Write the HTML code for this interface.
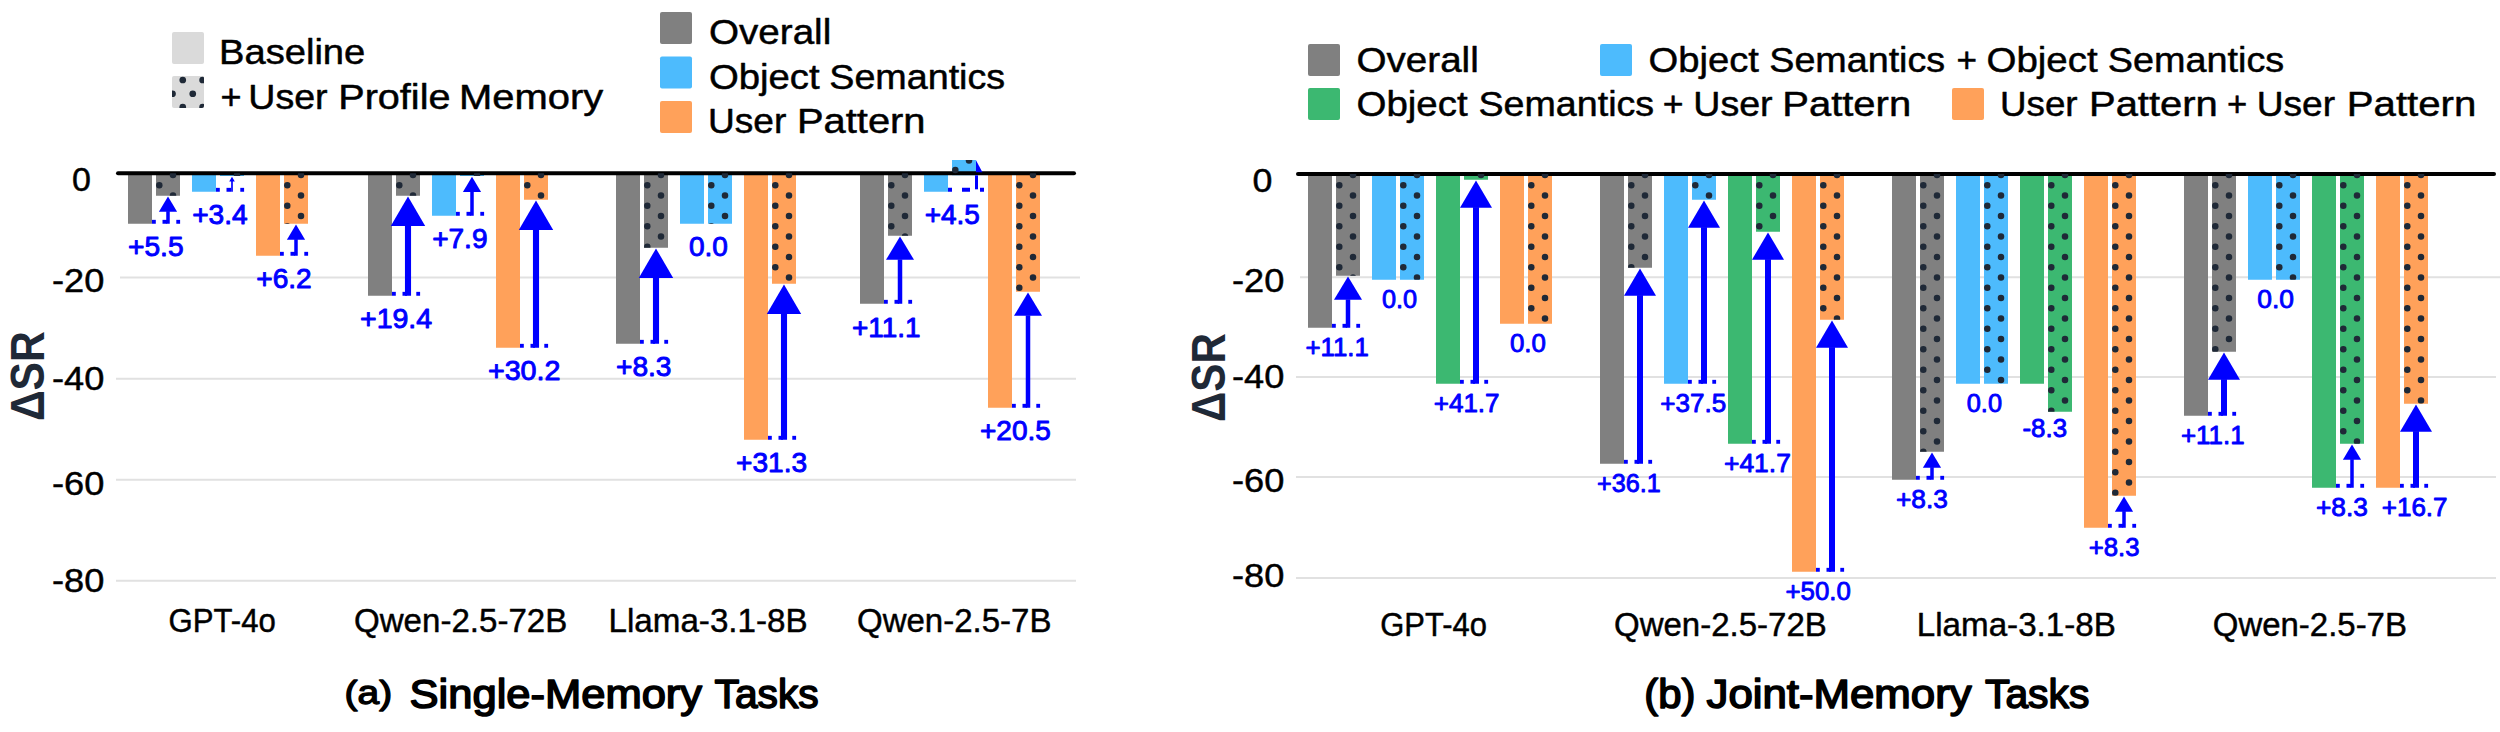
<!DOCTYPE html>
<html lang="en"><head><meta charset="utf-8"><title>Memory ablation chart</title>
<style>html,body{margin:0;padding:0;background:#fff}svg{display:block}</style></head>
<body>
<svg width="2500" height="732" viewBox="0 0 2500 732" font-family='"Liberation Sans", "DejaVu Sans", sans-serif'>
<rect width="2500" height="732" fill="#fff"/>
<g stroke="#e1e1e1" stroke-width="2"><line x1="120" x2="1080" y1="277.6" y2="277.6"/><line x1="116" x2="1076" y1="378.75" y2="378.75"/><line x1="116" x2="1076" y1="479.75" y2="479.75"/><line x1="116" x2="1076" y1="580.8" y2="580.8"/><line x1="1300" x2="2500" y1="277.25" y2="277.25"/><line x1="1296" x2="2496" y1="376.9" y2="376.9"/><line x1="1296" x2="2496" y1="476.9" y2="476.9"/><line x1="1296" x2="2496" y1="578.0" y2="578.0"/></g>
<g><rect x="128" y="173.25" width="24" height="50.5" fill="#808080"/><rect x="156" y="173.25" width="24" height="22.5" fill="#808080"/><rect x="192" y="173.25" width="24" height="18.5" fill="#4dbbfd"/><rect x="220" y="173.25" width="24" height="2.75" fill="#4dbbfd"/><rect x="256" y="173.25" width="24" height="82.5" fill="#ffa15a"/><rect x="284" y="173.25" width="24" height="50.5" fill="#ffa15a"/><rect x="368" y="173.25" width="24" height="122.5" fill="#808080"/><rect x="396" y="173.25" width="24" height="22.5" fill="#808080"/><rect x="432" y="173.25" width="24" height="42.5" fill="#4dbbfd"/><rect x="460" y="173.25" width="24" height="2.75" fill="#4dbbfd"/><rect x="496" y="173.25" width="24" height="174.5" fill="#ffa15a"/><rect x="524" y="173.25" width="24" height="26.5" fill="#ffa15a"/><rect x="616" y="173.25" width="24" height="170.5" fill="#808080"/><rect x="644" y="173.25" width="24" height="74.5" fill="#808080"/><rect x="680" y="173.25" width="24" height="50.5" fill="#4dbbfd"/><rect x="708" y="173.25" width="24" height="50.5" fill="#4dbbfd"/><rect x="744" y="173.25" width="24" height="266.5" fill="#ffa15a"/><rect x="772" y="173.25" width="24" height="110.5" fill="#ffa15a"/><rect x="860" y="173.25" width="24" height="130.5" fill="#808080"/><rect x="888" y="173.25" width="24" height="62.5" fill="#808080"/><rect x="924" y="173.25" width="24" height="18.5" fill="#4dbbfd"/><rect x="952" y="160" width="24" height="15.25" fill="#4dbbfd"/><rect x="988" y="173.25" width="24" height="234.5" fill="#ffa15a"/><rect x="1016" y="173.25" width="24" height="118.5" fill="#ffa15a"/><rect x="1308" y="174" width="24" height="153.75" fill="#808080"/><rect x="1336" y="174" width="24" height="101.75" fill="#808080"/><rect x="1372" y="174" width="24" height="105.75" fill="#4dbbfd"/><rect x="1400" y="174" width="24" height="105.75" fill="#4dbbfd"/><rect x="1436" y="174" width="24" height="209.75" fill="#3cb871"/><rect x="1464" y="174" width="24" height="5.75" fill="#3cb871"/><rect x="1500" y="174" width="24" height="149.75" fill="#ffa15a"/><rect x="1528" y="174" width="24" height="149.75" fill="#ffa15a"/><rect x="1600" y="174" width="24" height="289.75" fill="#808080"/><rect x="1628" y="174" width="24" height="93.75" fill="#808080"/><rect x="1664" y="174" width="24" height="209.75" fill="#4dbbfd"/><rect x="1692" y="174" width="24" height="25.75" fill="#4dbbfd"/><rect x="1728" y="174" width="24" height="269.75" fill="#3cb871"/><rect x="1756" y="174" width="24" height="57.75" fill="#3cb871"/><rect x="1792" y="174" width="24" height="397.75" fill="#ffa15a"/><rect x="1820" y="174" width="24" height="145.75" fill="#ffa15a"/><rect x="1892" y="174" width="24" height="305.75" fill="#808080"/><rect x="1920" y="174" width="24" height="277.75" fill="#808080"/><rect x="1956" y="174" width="24" height="209.75" fill="#4dbbfd"/><rect x="1984" y="174" width="24" height="209.75" fill="#4dbbfd"/><rect x="2020" y="174" width="24" height="209.75" fill="#3cb871"/><rect x="2048" y="174" width="24" height="237.75" fill="#3cb871"/><rect x="2084" y="174" width="24" height="353.75" fill="#ffa15a"/><rect x="2112" y="174" width="24" height="321.75" fill="#ffa15a"/><rect x="2184" y="174" width="24" height="241.75" fill="#808080"/><rect x="2212" y="174" width="24" height="177.75" fill="#808080"/><rect x="2248" y="174" width="24" height="105.75" fill="#4dbbfd"/><rect x="2276" y="174" width="24" height="105.75" fill="#4dbbfd"/><rect x="2312" y="174" width="24" height="313.75" fill="#3cb871"/><rect x="2340" y="174" width="24" height="269.75" fill="#3cb871"/><rect x="2376" y="174" width="24" height="313.75" fill="#ffa15a"/><rect x="2404" y="174" width="24" height="229.75" fill="#ffa15a"/></g>
<g stroke="#000" stroke-width="4" stroke-linecap="round"><line x1="118" x2="1074" y1="173.25" y2="173.25"/><line x1="1298" x2="2494" y1="174.0" y2="174.0"/></g>
<g><clipPath id="c1"><rect x="156" y="173.25" width="24" height="22.5"/></clipPath><g clip-path="url(#c1)" fill="#1f2937"><circle cx="159.3" cy="185.25" r="3.25"/><circle cx="173" cy="175" r="3.25"/><circle cx="173" cy="195.5" r="3.25"/></g><clipPath id="c2"><rect x="220" y="173.25" width="24" height="2.75"/></clipPath><g clip-path="url(#c2)" fill="#1f2937"><circle cx="237" cy="175" r="3.25"/></g><clipPath id="c3"><rect x="284" y="173.25" width="24" height="50.5"/></clipPath><g clip-path="url(#c3)" fill="#1f2937"><circle cx="287.3" cy="185.25" r="3.25"/><circle cx="287.3" cy="205.75" r="3.25"/><circle cx="287.3" cy="226.25" r="3.25"/><circle cx="301" cy="175" r="3.25"/><circle cx="301" cy="195.5" r="3.25"/><circle cx="301" cy="216" r="3.25"/></g><clipPath id="c4"><rect x="396" y="173.25" width="24" height="22.5"/></clipPath><g clip-path="url(#c4)" fill="#1f2937"><circle cx="399.3" cy="185.25" r="3.25"/><circle cx="413" cy="175" r="3.25"/><circle cx="413" cy="195.5" r="3.25"/></g><clipPath id="c5"><rect x="460" y="173.25" width="24" height="2.75"/></clipPath><g clip-path="url(#c5)" fill="#1f2937"><circle cx="477" cy="175" r="3.25"/></g><clipPath id="c6"><rect x="524" y="173.25" width="24" height="26.5"/></clipPath><g clip-path="url(#c6)" fill="#1f2937"><circle cx="527.3" cy="185.25" r="3.25"/><circle cx="541" cy="175" r="3.25"/><circle cx="541" cy="195.5" r="3.25"/></g><clipPath id="c7"><rect x="644" y="173.25" width="24" height="74.5"/></clipPath><g clip-path="url(#c7)" fill="#1f2937"><circle cx="647.3" cy="185.25" r="3.25"/><circle cx="647.3" cy="205.75" r="3.25"/><circle cx="647.3" cy="226.25" r="3.25"/><circle cx="647.3" cy="246.75" r="3.25"/><circle cx="661" cy="175" r="3.25"/><circle cx="661" cy="195.5" r="3.25"/><circle cx="661" cy="216" r="3.25"/><circle cx="661" cy="236.5" r="3.25"/></g><clipPath id="c8"><rect x="708" y="173.25" width="24" height="50.5"/></clipPath><g clip-path="url(#c8)" fill="#1f2937"><circle cx="711.3" cy="185.25" r="3.25"/><circle cx="711.3" cy="205.75" r="3.25"/><circle cx="711.3" cy="226.25" r="3.25"/><circle cx="725" cy="175" r="3.25"/><circle cx="725" cy="195.5" r="3.25"/><circle cx="725" cy="216" r="3.25"/></g><clipPath id="c9"><rect x="772" y="173.25" width="24" height="110.5"/></clipPath><g clip-path="url(#c9)" fill="#1f2937"><circle cx="775.3" cy="185.25" r="3.25"/><circle cx="775.3" cy="205.75" r="3.25"/><circle cx="775.3" cy="226.25" r="3.25"/><circle cx="775.3" cy="246.75" r="3.25"/><circle cx="775.3" cy="267.25" r="3.25"/><circle cx="789" cy="175" r="3.25"/><circle cx="789" cy="195.5" r="3.25"/><circle cx="789" cy="216" r="3.25"/><circle cx="789" cy="236.5" r="3.25"/><circle cx="789" cy="257" r="3.25"/><circle cx="789" cy="277.5" r="3.25"/></g><clipPath id="c10"><rect x="888" y="173.25" width="24" height="62.5"/></clipPath><g clip-path="url(#c10)" fill="#1f2937"><circle cx="891.3" cy="185.25" r="3.25"/><circle cx="891.3" cy="205.75" r="3.25"/><circle cx="891.3" cy="226.25" r="3.25"/><circle cx="905" cy="175" r="3.25"/><circle cx="905" cy="195.5" r="3.25"/><circle cx="905" cy="216" r="3.25"/><circle cx="905" cy="236.5" r="3.25"/></g><clipPath id="c11"><rect x="952" y="160" width="24" height="15.25"/></clipPath><g clip-path="url(#c11)" fill="#1f2937"><circle cx="955.3" cy="169.9" r="3.25"/><circle cx="969" cy="160.6" r="3.25"/><circle cx="969" cy="181.1" r="3.25"/></g><clipPath id="c12"><rect x="1016" y="173.25" width="24" height="118.5"/></clipPath><g clip-path="url(#c12)" fill="#1f2937"><circle cx="1019.3" cy="185.25" r="3.25"/><circle cx="1019.3" cy="205.75" r="3.25"/><circle cx="1019.3" cy="226.25" r="3.25"/><circle cx="1019.3" cy="246.75" r="3.25"/><circle cx="1019.3" cy="267.25" r="3.25"/><circle cx="1019.3" cy="287.75" r="3.25"/><circle cx="1033" cy="175" r="3.25"/><circle cx="1033" cy="195.5" r="3.25"/><circle cx="1033" cy="216" r="3.25"/><circle cx="1033" cy="236.5" r="3.25"/><circle cx="1033" cy="257" r="3.25"/><circle cx="1033" cy="277.5" r="3.25"/></g><clipPath id="c13"><rect x="1336" y="174" width="24" height="101.75"/></clipPath><g clip-path="url(#c13)" fill="#1f2937"><circle cx="1339.3" cy="185.25" r="3.25"/><circle cx="1339.3" cy="205.75" r="3.25"/><circle cx="1339.3" cy="226.25" r="3.25"/><circle cx="1339.3" cy="246.75" r="3.25"/><circle cx="1339.3" cy="267.25" r="3.25"/><circle cx="1353" cy="175" r="3.25"/><circle cx="1353" cy="195.5" r="3.25"/><circle cx="1353" cy="216" r="3.25"/><circle cx="1353" cy="236.5" r="3.25"/><circle cx="1353" cy="257" r="3.25"/><circle cx="1353" cy="277.5" r="3.25"/></g><clipPath id="c14"><rect x="1400" y="174" width="24" height="105.75"/></clipPath><g clip-path="url(#c14)" fill="#1f2937"><circle cx="1403.3" cy="185.25" r="3.25"/><circle cx="1403.3" cy="205.75" r="3.25"/><circle cx="1403.3" cy="226.25" r="3.25"/><circle cx="1403.3" cy="246.75" r="3.25"/><circle cx="1403.3" cy="267.25" r="3.25"/><circle cx="1417" cy="175" r="3.25"/><circle cx="1417" cy="195.5" r="3.25"/><circle cx="1417" cy="216" r="3.25"/><circle cx="1417" cy="236.5" r="3.25"/><circle cx="1417" cy="257" r="3.25"/><circle cx="1417" cy="277.5" r="3.25"/></g><clipPath id="c15"><rect x="1464" y="174" width="24" height="5.75"/></clipPath><g clip-path="url(#c15)" fill="#1f2937"><circle cx="1481" cy="175" r="3.25"/></g><clipPath id="c16"><rect x="1528" y="174" width="24" height="149.75"/></clipPath><g clip-path="url(#c16)" fill="#1f2937"><circle cx="1531.3" cy="185.25" r="3.25"/><circle cx="1531.3" cy="205.75" r="3.25"/><circle cx="1531.3" cy="226.25" r="3.25"/><circle cx="1531.3" cy="246.75" r="3.25"/><circle cx="1531.3" cy="267.25" r="3.25"/><circle cx="1531.3" cy="287.75" r="3.25"/><circle cx="1531.3" cy="308.25" r="3.25"/><circle cx="1545" cy="175" r="3.25"/><circle cx="1545" cy="195.5" r="3.25"/><circle cx="1545" cy="216" r="3.25"/><circle cx="1545" cy="236.5" r="3.25"/><circle cx="1545" cy="257" r="3.25"/><circle cx="1545" cy="277.5" r="3.25"/><circle cx="1545" cy="298" r="3.25"/><circle cx="1545" cy="318.5" r="3.25"/></g><clipPath id="c17"><rect x="1628" y="174" width="24" height="93.75"/></clipPath><g clip-path="url(#c17)" fill="#1f2937"><circle cx="1631.3" cy="185.25" r="3.25"/><circle cx="1631.3" cy="205.75" r="3.25"/><circle cx="1631.3" cy="226.25" r="3.25"/><circle cx="1631.3" cy="246.75" r="3.25"/><circle cx="1631.3" cy="267.25" r="3.25"/><circle cx="1645" cy="175" r="3.25"/><circle cx="1645" cy="195.5" r="3.25"/><circle cx="1645" cy="216" r="3.25"/><circle cx="1645" cy="236.5" r="3.25"/><circle cx="1645" cy="257" r="3.25"/></g><clipPath id="c18"><rect x="1692" y="174" width="24" height="25.75"/></clipPath><g clip-path="url(#c18)" fill="#1f2937"><circle cx="1695.3" cy="185.25" r="3.25"/><circle cx="1709" cy="175" r="3.25"/><circle cx="1709" cy="195.5" r="3.25"/></g><clipPath id="c19"><rect x="1756" y="174" width="24" height="57.75"/></clipPath><g clip-path="url(#c19)" fill="#1f2937"><circle cx="1759.3" cy="185.25" r="3.25"/><circle cx="1759.3" cy="205.75" r="3.25"/><circle cx="1759.3" cy="226.25" r="3.25"/><circle cx="1773" cy="175" r="3.25"/><circle cx="1773" cy="195.5" r="3.25"/><circle cx="1773" cy="216" r="3.25"/></g><clipPath id="c20"><rect x="1820" y="174" width="24" height="145.75"/></clipPath><g clip-path="url(#c20)" fill="#1f2937"><circle cx="1823.3" cy="185.25" r="3.25"/><circle cx="1823.3" cy="205.75" r="3.25"/><circle cx="1823.3" cy="226.25" r="3.25"/><circle cx="1823.3" cy="246.75" r="3.25"/><circle cx="1823.3" cy="267.25" r="3.25"/><circle cx="1823.3" cy="287.75" r="3.25"/><circle cx="1823.3" cy="308.25" r="3.25"/><circle cx="1837" cy="175" r="3.25"/><circle cx="1837" cy="195.5" r="3.25"/><circle cx="1837" cy="216" r="3.25"/><circle cx="1837" cy="236.5" r="3.25"/><circle cx="1837" cy="257" r="3.25"/><circle cx="1837" cy="277.5" r="3.25"/><circle cx="1837" cy="298" r="3.25"/><circle cx="1837" cy="318.5" r="3.25"/></g><clipPath id="c21"><rect x="1920" y="174" width="24" height="277.75"/></clipPath><g clip-path="url(#c21)" fill="#1f2937"><circle cx="1923.3" cy="185.25" r="3.25"/><circle cx="1923.3" cy="205.75" r="3.25"/><circle cx="1923.3" cy="226.25" r="3.25"/><circle cx="1923.3" cy="246.75" r="3.25"/><circle cx="1923.3" cy="267.25" r="3.25"/><circle cx="1923.3" cy="287.75" r="3.25"/><circle cx="1923.3" cy="308.25" r="3.25"/><circle cx="1923.3" cy="328.75" r="3.25"/><circle cx="1923.3" cy="349.25" r="3.25"/><circle cx="1923.3" cy="369.75" r="3.25"/><circle cx="1923.3" cy="390.25" r="3.25"/><circle cx="1923.3" cy="410.75" r="3.25"/><circle cx="1923.3" cy="431.25" r="3.25"/><circle cx="1923.3" cy="451.75" r="3.25"/><circle cx="1937" cy="175" r="3.25"/><circle cx="1937" cy="195.5" r="3.25"/><circle cx="1937" cy="216" r="3.25"/><circle cx="1937" cy="236.5" r="3.25"/><circle cx="1937" cy="257" r="3.25"/><circle cx="1937" cy="277.5" r="3.25"/><circle cx="1937" cy="298" r="3.25"/><circle cx="1937" cy="318.5" r="3.25"/><circle cx="1937" cy="339" r="3.25"/><circle cx="1937" cy="359.5" r="3.25"/><circle cx="1937" cy="380" r="3.25"/><circle cx="1937" cy="400.5" r="3.25"/><circle cx="1937" cy="421" r="3.25"/><circle cx="1937" cy="441.5" r="3.25"/></g><clipPath id="c22"><rect x="1984" y="174" width="24" height="209.75"/></clipPath><g clip-path="url(#c22)" fill="#1f2937"><circle cx="1987.3" cy="185.25" r="3.25"/><circle cx="1987.3" cy="205.75" r="3.25"/><circle cx="1987.3" cy="226.25" r="3.25"/><circle cx="1987.3" cy="246.75" r="3.25"/><circle cx="1987.3" cy="267.25" r="3.25"/><circle cx="1987.3" cy="287.75" r="3.25"/><circle cx="1987.3" cy="308.25" r="3.25"/><circle cx="1987.3" cy="328.75" r="3.25"/><circle cx="1987.3" cy="349.25" r="3.25"/><circle cx="1987.3" cy="369.75" r="3.25"/><circle cx="2001" cy="175" r="3.25"/><circle cx="2001" cy="195.5" r="3.25"/><circle cx="2001" cy="216" r="3.25"/><circle cx="2001" cy="236.5" r="3.25"/><circle cx="2001" cy="257" r="3.25"/><circle cx="2001" cy="277.5" r="3.25"/><circle cx="2001" cy="298" r="3.25"/><circle cx="2001" cy="318.5" r="3.25"/><circle cx="2001" cy="339" r="3.25"/><circle cx="2001" cy="359.5" r="3.25"/><circle cx="2001" cy="380" r="3.25"/></g><clipPath id="c23"><rect x="2048" y="174" width="24" height="237.75"/></clipPath><g clip-path="url(#c23)" fill="#1f2937"><circle cx="2051.3" cy="185.25" r="3.25"/><circle cx="2051.3" cy="205.75" r="3.25"/><circle cx="2051.3" cy="226.25" r="3.25"/><circle cx="2051.3" cy="246.75" r="3.25"/><circle cx="2051.3" cy="267.25" r="3.25"/><circle cx="2051.3" cy="287.75" r="3.25"/><circle cx="2051.3" cy="308.25" r="3.25"/><circle cx="2051.3" cy="328.75" r="3.25"/><circle cx="2051.3" cy="349.25" r="3.25"/><circle cx="2051.3" cy="369.75" r="3.25"/><circle cx="2051.3" cy="390.25" r="3.25"/><circle cx="2051.3" cy="410.75" r="3.25"/><circle cx="2065" cy="175" r="3.25"/><circle cx="2065" cy="195.5" r="3.25"/><circle cx="2065" cy="216" r="3.25"/><circle cx="2065" cy="236.5" r="3.25"/><circle cx="2065" cy="257" r="3.25"/><circle cx="2065" cy="277.5" r="3.25"/><circle cx="2065" cy="298" r="3.25"/><circle cx="2065" cy="318.5" r="3.25"/><circle cx="2065" cy="339" r="3.25"/><circle cx="2065" cy="359.5" r="3.25"/><circle cx="2065" cy="380" r="3.25"/><circle cx="2065" cy="400.5" r="3.25"/></g><clipPath id="c24"><rect x="2112" y="174" width="24" height="321.75"/></clipPath><g clip-path="url(#c24)" fill="#1f2937"><circle cx="2115.3" cy="185.25" r="3.25"/><circle cx="2115.3" cy="205.75" r="3.25"/><circle cx="2115.3" cy="226.25" r="3.25"/><circle cx="2115.3" cy="246.75" r="3.25"/><circle cx="2115.3" cy="267.25" r="3.25"/><circle cx="2115.3" cy="287.75" r="3.25"/><circle cx="2115.3" cy="308.25" r="3.25"/><circle cx="2115.3" cy="328.75" r="3.25"/><circle cx="2115.3" cy="349.25" r="3.25"/><circle cx="2115.3" cy="369.75" r="3.25"/><circle cx="2115.3" cy="390.25" r="3.25"/><circle cx="2115.3" cy="410.75" r="3.25"/><circle cx="2115.3" cy="431.25" r="3.25"/><circle cx="2115.3" cy="451.75" r="3.25"/><circle cx="2115.3" cy="472.25" r="3.25"/><circle cx="2115.3" cy="492.75" r="3.25"/><circle cx="2129" cy="175" r="3.25"/><circle cx="2129" cy="195.5" r="3.25"/><circle cx="2129" cy="216" r="3.25"/><circle cx="2129" cy="236.5" r="3.25"/><circle cx="2129" cy="257" r="3.25"/><circle cx="2129" cy="277.5" r="3.25"/><circle cx="2129" cy="298" r="3.25"/><circle cx="2129" cy="318.5" r="3.25"/><circle cx="2129" cy="339" r="3.25"/><circle cx="2129" cy="359.5" r="3.25"/><circle cx="2129" cy="380" r="3.25"/><circle cx="2129" cy="400.5" r="3.25"/><circle cx="2129" cy="421" r="3.25"/><circle cx="2129" cy="441.5" r="3.25"/><circle cx="2129" cy="462" r="3.25"/><circle cx="2129" cy="482.5" r="3.25"/></g><clipPath id="c25"><rect x="2212" y="174" width="24" height="177.75"/></clipPath><g clip-path="url(#c25)" fill="#1f2937"><circle cx="2215.3" cy="185.25" r="3.25"/><circle cx="2215.3" cy="205.75" r="3.25"/><circle cx="2215.3" cy="226.25" r="3.25"/><circle cx="2215.3" cy="246.75" r="3.25"/><circle cx="2215.3" cy="267.25" r="3.25"/><circle cx="2215.3" cy="287.75" r="3.25"/><circle cx="2215.3" cy="308.25" r="3.25"/><circle cx="2215.3" cy="328.75" r="3.25"/><circle cx="2215.3" cy="349.25" r="3.25"/><circle cx="2229" cy="175" r="3.25"/><circle cx="2229" cy="195.5" r="3.25"/><circle cx="2229" cy="216" r="3.25"/><circle cx="2229" cy="236.5" r="3.25"/><circle cx="2229" cy="257" r="3.25"/><circle cx="2229" cy="277.5" r="3.25"/><circle cx="2229" cy="298" r="3.25"/><circle cx="2229" cy="318.5" r="3.25"/><circle cx="2229" cy="339" r="3.25"/></g><clipPath id="c26"><rect x="2276" y="174" width="24" height="105.75"/></clipPath><g clip-path="url(#c26)" fill="#1f2937"><circle cx="2279.3" cy="185.25" r="3.25"/><circle cx="2279.3" cy="205.75" r="3.25"/><circle cx="2279.3" cy="226.25" r="3.25"/><circle cx="2279.3" cy="246.75" r="3.25"/><circle cx="2279.3" cy="267.25" r="3.25"/><circle cx="2293" cy="175" r="3.25"/><circle cx="2293" cy="195.5" r="3.25"/><circle cx="2293" cy="216" r="3.25"/><circle cx="2293" cy="236.5" r="3.25"/><circle cx="2293" cy="257" r="3.25"/><circle cx="2293" cy="277.5" r="3.25"/></g><clipPath id="c27"><rect x="2340" y="174" width="24" height="269.75"/></clipPath><g clip-path="url(#c27)" fill="#1f2937"><circle cx="2343.3" cy="185.25" r="3.25"/><circle cx="2343.3" cy="205.75" r="3.25"/><circle cx="2343.3" cy="226.25" r="3.25"/><circle cx="2343.3" cy="246.75" r="3.25"/><circle cx="2343.3" cy="267.25" r="3.25"/><circle cx="2343.3" cy="287.75" r="3.25"/><circle cx="2343.3" cy="308.25" r="3.25"/><circle cx="2343.3" cy="328.75" r="3.25"/><circle cx="2343.3" cy="349.25" r="3.25"/><circle cx="2343.3" cy="369.75" r="3.25"/><circle cx="2343.3" cy="390.25" r="3.25"/><circle cx="2343.3" cy="410.75" r="3.25"/><circle cx="2343.3" cy="431.25" r="3.25"/><circle cx="2357" cy="175" r="3.25"/><circle cx="2357" cy="195.5" r="3.25"/><circle cx="2357" cy="216" r="3.25"/><circle cx="2357" cy="236.5" r="3.25"/><circle cx="2357" cy="257" r="3.25"/><circle cx="2357" cy="277.5" r="3.25"/><circle cx="2357" cy="298" r="3.25"/><circle cx="2357" cy="318.5" r="3.25"/><circle cx="2357" cy="339" r="3.25"/><circle cx="2357" cy="359.5" r="3.25"/><circle cx="2357" cy="380" r="3.25"/><circle cx="2357" cy="400.5" r="3.25"/><circle cx="2357" cy="421" r="3.25"/><circle cx="2357" cy="441.5" r="3.25"/></g><clipPath id="c28"><rect x="2404" y="174" width="24" height="229.75"/></clipPath><g clip-path="url(#c28)" fill="#1f2937"><circle cx="2407.3" cy="185.25" r="3.25"/><circle cx="2407.3" cy="205.75" r="3.25"/><circle cx="2407.3" cy="226.25" r="3.25"/><circle cx="2407.3" cy="246.75" r="3.25"/><circle cx="2407.3" cy="267.25" r="3.25"/><circle cx="2407.3" cy="287.75" r="3.25"/><circle cx="2407.3" cy="308.25" r="3.25"/><circle cx="2407.3" cy="328.75" r="3.25"/><circle cx="2407.3" cy="349.25" r="3.25"/><circle cx="2407.3" cy="369.75" r="3.25"/><circle cx="2407.3" cy="390.25" r="3.25"/><circle cx="2421" cy="175" r="3.25"/><circle cx="2421" cy="195.5" r="3.25"/><circle cx="2421" cy="216" r="3.25"/><circle cx="2421" cy="236.5" r="3.25"/><circle cx="2421" cy="257" r="3.25"/><circle cx="2421" cy="277.5" r="3.25"/><circle cx="2421" cy="298" r="3.25"/><circle cx="2421" cy="318.5" r="3.25"/><circle cx="2421" cy="339" r="3.25"/><circle cx="2421" cy="359.5" r="3.25"/><circle cx="2421" cy="380" r="3.25"/><circle cx="2421" cy="400.5" r="3.25"/></g></g>
<g fill="#0000ff"><rect x="152" y="219.85" width="3.8" height="3.9"/><rect x="162.5" y="219.85" width="4.5" height="3.9"/><rect x="176.3" y="219.85" width="3.8" height="3.9"/><rect x="166.25" y="211.15" width="3.5" height="12.6"/><polygon points="168,196.45 177.1,211.65 158.9,211.65"/><rect x="216" y="187.85" width="3.8" height="3.9"/><rect x="226.5" y="187.85" width="4.5" height="3.9"/><rect x="240.3" y="187.85" width="3.8" height="3.9"/><rect x="231.15" y="180.9" width="1.7" height="10.85"/><polygon points="232,176.7 234.8,181.4 229.2,181.4"/><rect x="280" y="251.85" width="3.8" height="3.9"/><rect x="290.5" y="251.85" width="4.5" height="3.9"/><rect x="304.3" y="251.85" width="3.8" height="3.9"/><rect x="294.25" y="239.15" width="3.5" height="16.6"/><polygon points="296,224.45 305.1,239.65 286.9,239.65"/><rect x="392" y="291.85" width="3.8" height="3.9"/><rect x="402.5" y="291.85" width="4.5" height="3.9"/><rect x="416.3" y="291.85" width="3.8" height="3.9"/><rect x="404.95" y="225.45" width="6.1" height="70.3"/><polygon points="408,196.45 425.2,225.95 390.8,225.95"/><rect x="456" y="211.85" width="3.8" height="3.9"/><rect x="466.5" y="211.85" width="4.5" height="3.9"/><rect x="480.3" y="211.85" width="3.8" height="3.9"/><rect x="470.25" y="191.4" width="3.5" height="24.35"/><polygon points="472,176.7 481.1,191.9 462.9,191.9"/><rect x="520" y="343.85" width="3.8" height="3.9"/><rect x="530.5" y="343.85" width="4.5" height="3.9"/><rect x="544.3" y="343.85" width="3.8" height="3.9"/><rect x="532.95" y="229.45" width="6.1" height="118.3"/><polygon points="536,200.45 553.2,229.95 518.8,229.95"/><rect x="640" y="339.85" width="3.8" height="3.9"/><rect x="650.5" y="339.85" width="4.5" height="3.9"/><rect x="664.3" y="339.85" width="3.8" height="3.9"/><rect x="652.95" y="277.45" width="6.1" height="66.3"/><polygon points="656,248.45 673.2,277.95 638.8,277.95"/><rect x="768" y="435.85" width="3.8" height="3.9"/><rect x="778.5" y="435.85" width="4.5" height="3.9"/><rect x="792.3" y="435.85" width="3.8" height="3.9"/><rect x="780.95" y="313.45" width="6.1" height="126.3"/><polygon points="784,284.45 801.2,313.95 766.8,313.95"/><rect x="884" y="299.85" width="3.8" height="3.9"/><rect x="894.5" y="299.85" width="4.5" height="3.9"/><rect x="908.3" y="299.85" width="3.8" height="3.9"/><rect x="897.75" y="259.35" width="4.5" height="44.4"/><polygon points="900,236.45 914,259.85 886,259.85"/><polygon points="976,160.2 982.4,172.2 976,172.2"/><rect x="975" y="175.3" width="3" height="14"/><rect x="948" y="187.75" width="4" height="4"/><rect x="962" y="187.75" width="8" height="4"/><rect x="980" y="187.75" width="4" height="4"/><rect x="1012" y="403.85" width="3.8" height="3.9"/><rect x="1022.5" y="403.85" width="4.5" height="3.9"/><rect x="1036.3" y="403.85" width="3.8" height="3.9"/><rect x="1025.75" y="315.35" width="4.5" height="92.4"/><polygon points="1028,292.45 1042,315.85 1014,315.85"/><rect x="1332" y="323.85" width="3.8" height="3.9"/><rect x="1342.5" y="323.85" width="4.5" height="3.9"/><rect x="1356.3" y="323.85" width="3.8" height="3.9"/><rect x="1345.75" y="299.35" width="4.5" height="28.4"/><polygon points="1348,276.45 1362,299.85 1334,299.85"/><rect x="1460" y="379.85" width="3.8" height="3.9"/><rect x="1470.5" y="379.85" width="4.5" height="3.9"/><rect x="1484.3" y="379.85" width="3.8" height="3.9"/><rect x="1473" y="207.15" width="6" height="176.6"/><polygon points="1476,180.45 1492,207.65 1460,207.65"/><rect x="1624" y="459.85" width="3.8" height="3.9"/><rect x="1634.5" y="459.85" width="4.5" height="3.9"/><rect x="1648.3" y="459.85" width="3.8" height="3.9"/><rect x="1637" y="295.15" width="6" height="168.6"/><polygon points="1640,268.45 1656,295.65 1624,295.65"/><rect x="1688" y="379.85" width="3.8" height="3.9"/><rect x="1698.5" y="379.85" width="4.5" height="3.9"/><rect x="1712.3" y="379.85" width="3.8" height="3.9"/><rect x="1701" y="227.15" width="6" height="156.6"/><polygon points="1704,200.45 1720,227.65 1688,227.65"/><rect x="1752" y="439.85" width="3.8" height="3.9"/><rect x="1762.5" y="439.85" width="4.5" height="3.9"/><rect x="1776.3" y="439.85" width="3.8" height="3.9"/><rect x="1765" y="259.15" width="6" height="184.6"/><polygon points="1768,232.45 1784,259.65 1752,259.65"/><rect x="1816" y="567.85" width="3.8" height="3.9"/><rect x="1826.5" y="567.85" width="4.5" height="3.9"/><rect x="1840.3" y="567.85" width="3.8" height="3.9"/><rect x="1829" y="347.15" width="6" height="224.6"/><polygon points="1832,320.45 1848,347.65 1816,347.65"/><rect x="1916" y="475.85" width="3.8" height="3.9"/><rect x="1926.5" y="475.85" width="4.5" height="3.9"/><rect x="1940.3" y="475.85" width="3.8" height="3.9"/><rect x="1930.25" y="467.15" width="3.5" height="12.6"/><polygon points="1932,452.45 1941.1,467.65 1922.9,467.65"/><rect x="2108" y="523.85" width="3.8" height="3.9"/><rect x="2118.5" y="523.85" width="4.5" height="3.9"/><rect x="2132.3" y="523.85" width="3.8" height="3.9"/><rect x="2122.25" y="511.15" width="3.5" height="16.6"/><polygon points="2124,496.45 2133.1,511.65 2114.9,511.65"/><rect x="2208" y="411.85" width="3.8" height="3.9"/><rect x="2218.5" y="411.85" width="4.5" height="3.9"/><rect x="2232.3" y="411.85" width="3.8" height="3.9"/><rect x="2221" y="379.15" width="6" height="36.6"/><polygon points="2224,352.45 2240,379.65 2208,379.65"/><rect x="2336" y="483.85" width="3.8" height="3.9"/><rect x="2346.5" y="483.85" width="4.5" height="3.9"/><rect x="2360.3" y="483.85" width="3.8" height="3.9"/><rect x="2350.25" y="459.15" width="3.5" height="28.6"/><polygon points="2352,444.45 2361.1,459.65 2342.9,459.65"/><rect x="2400" y="483.85" width="3.8" height="3.9"/><rect x="2410.5" y="483.85" width="4.5" height="3.9"/><rect x="2424.3" y="483.85" width="3.8" height="3.9"/><rect x="2413" y="431.15" width="6" height="56.6"/><polygon points="2416,404.45 2432,431.65 2400,431.65"/></g>
<rect x="172" y="32" width="32" height="32" rx="2" ry="2" fill="#dadada"/><rect x="172" y="76" width="32" height="32" rx="2" ry="2" fill="#dadada"/><clipPath id="lg"><rect x="172" y="76" width="32" height="32" rx="2" ry="2"/></clipPath><g clip-path="url(#lg)" fill="#1f2937"><circle cx="182.75" cy="80" r="3.35"/><circle cx="202.6" cy="80" r="3.35"/><circle cx="172.5" cy="93.75" r="3.35"/><circle cx="192.75" cy="93.75" r="3.35"/><circle cx="182.75" cy="107.2" r="3.35"/><circle cx="202.6" cy="107.2" r="3.35"/></g><rect x="660" y="12" width="32" height="32" rx="2" ry="2" fill="#808080"/><rect x="660" y="56.5" width="32" height="32" rx="2" ry="2" fill="#4dbbfd"/><rect x="660" y="101" width="32" height="32" rx="2" ry="2" fill="#ffa15a"/><rect x="1308" y="44" width="32" height="32" rx="2" ry="2" fill="#808080"/><rect x="1600" y="44" width="32" height="32" rx="2" ry="2" fill="#4dbbfd"/><rect x="1308" y="88" width="32" height="32" rx="2" ry="2" fill="#3cb871"/><rect x="1952" y="88" width="32" height="32" rx="2" ry="2" fill="#ffa15a"/>
<text id="l1" x="219.00" y="63.75" font-size="35.5" stroke="#000" stroke-width="0.5" stroke-linejoin="round" fill="#000" textLength="146.28" lengthAdjust="spacingAndGlyphs">Baseline</text>
<text id="l2_0" x="220.50" y="108.75" font-size="35.5" stroke="#000" stroke-width="0.5" stroke-linejoin="round" fill="#000" textLength="21.03" lengthAdjust="spacingAndGlyphs">+</text>
<text id="l2_1" x="248.25" y="108.75" font-size="35.5" stroke="#000" stroke-width="0.5" stroke-linejoin="round" fill="#000" textLength="79.37" lengthAdjust="spacingAndGlyphs">User</text>
<text id="l2_2" x="338.25" y="108.75" font-size="35.5" stroke="#000" stroke-width="0.5" stroke-linejoin="round" fill="#000" textLength="112.21" lengthAdjust="spacingAndGlyphs">Profile</text>
<text id="l2_3" x="459.00" y="108.75" font-size="35.5" stroke="#000" stroke-width="0.5" stroke-linejoin="round" fill="#000" textLength="144.24" lengthAdjust="spacingAndGlyphs">Memory</text>
<text id="l3" x="709.00" y="44.25" font-size="35.5" stroke="#000" stroke-width="0.5" stroke-linejoin="round" fill="#000" textLength="122.25" lengthAdjust="spacingAndGlyphs">Overall</text>
<text id="l4_0" x="709.00" y="88.75" font-size="35.5" stroke="#000" stroke-width="0.5" stroke-linejoin="round" fill="#000" textLength="110.62" lengthAdjust="spacingAndGlyphs">Object</text>
<text id="l4_1" x="829.25" y="88.75" font-size="35.5" stroke="#000" stroke-width="0.5" stroke-linejoin="round" fill="#000" textLength="175.93" lengthAdjust="spacingAndGlyphs">Semantics</text>
<text id="l5_0" x="708.00" y="132.75" font-size="35.5" stroke="#000" stroke-width="0.5" stroke-linejoin="round" fill="#000" textLength="78.34" lengthAdjust="spacingAndGlyphs">User</text>
<text id="l5_1" x="797.00" y="132.75" font-size="35.5" stroke="#000" stroke-width="0.5" stroke-linejoin="round" fill="#000" textLength="128.55" lengthAdjust="spacingAndGlyphs">Pattern</text>
<text id="r1" x="1356.50" y="72" font-size="35.5" stroke="#000" stroke-width="0.5" stroke-linejoin="round" fill="#000" textLength="122.25" lengthAdjust="spacingAndGlyphs">Overall</text>
<text id="r2_0" x="1648.50" y="72" font-size="35.5" stroke="#000" stroke-width="0.5" stroke-linejoin="round" fill="#000" textLength="110.37" lengthAdjust="spacingAndGlyphs">Object</text>
<text id="r2_1" x="1769.25" y="72" font-size="35.5" stroke="#000" stroke-width="0.5" stroke-linejoin="round" fill="#000" textLength="175.93" lengthAdjust="spacingAndGlyphs">Semantics</text>
<text id="r2_2" x="1956.50" y="72" font-size="35.5" stroke="#000" stroke-width="0.5" stroke-linejoin="round" fill="#000" textLength="20.51" lengthAdjust="spacingAndGlyphs">+</text>
<text id="r2_3" x="1986.50" y="72" font-size="35.5" stroke="#000" stroke-width="0.5" stroke-linejoin="round" fill="#000" textLength="111.12" lengthAdjust="spacingAndGlyphs">Object</text>
<text id="r2_4" x="2107.75" y="72" font-size="35.5" stroke="#000" stroke-width="0.5" stroke-linejoin="round" fill="#000" textLength="176.44" lengthAdjust="spacingAndGlyphs">Semantics</text>
<text id="r3_0" x="1356.50" y="116" font-size="35.5" stroke="#000" stroke-width="0.5" stroke-linejoin="round" fill="#000" textLength="111.12" lengthAdjust="spacingAndGlyphs">Object</text>
<text id="r3_1" x="1478.50" y="116" font-size="35.5" stroke="#000" stroke-width="0.5" stroke-linejoin="round" fill="#000" textLength="175.68" lengthAdjust="spacingAndGlyphs">Semantics</text>
<text id="r3_2" x="1662.75" y="116" font-size="35.5" stroke="#000" stroke-width="0.5" stroke-linejoin="round" fill="#000" textLength="20.80" lengthAdjust="spacingAndGlyphs">+</text>
<text id="r3_3" x="1693.25" y="116" font-size="35.5" stroke="#000" stroke-width="0.5" stroke-linejoin="round" fill="#000" textLength="79.37" lengthAdjust="spacingAndGlyphs">User</text>
<text id="r3_4" x="1782.25" y="116" font-size="35.5" stroke="#000" stroke-width="0.5" stroke-linejoin="round" fill="#000" textLength="128.90" lengthAdjust="spacingAndGlyphs">Pattern</text>
<text id="r4_0" x="2000.00" y="116" font-size="35.5" stroke="#000" stroke-width="0.5" stroke-linejoin="round" fill="#000" textLength="77.57" lengthAdjust="spacingAndGlyphs">User</text>
<text id="r4_1" x="2089.00" y="116" font-size="35.5" stroke="#000" stroke-width="0.5" stroke-linejoin="round" fill="#000" textLength="128.78" lengthAdjust="spacingAndGlyphs">Pattern</text>
<text id="r4_2" x="2227.00" y="116" font-size="35.5" stroke="#000" stroke-width="0.5" stroke-linejoin="round" fill="#000" textLength="20.25" lengthAdjust="spacingAndGlyphs">+</text>
<text id="r4_3" x="2256.75" y="116" font-size="35.5" stroke="#000" stroke-width="0.5" stroke-linejoin="round" fill="#000" textLength="78.34" lengthAdjust="spacingAndGlyphs">User</text>
<text id="r4_4" x="2346.75" y="116" font-size="35.5" stroke="#000" stroke-width="0.5" stroke-linejoin="round" fill="#000" textLength="129.55" lengthAdjust="spacingAndGlyphs">Pattern</text>
<text id="ly0" x="72.00" y="191" font-size="33.5" stroke="#000" stroke-width="0.47" stroke-linejoin="round" fill="#000" textLength="18.92" lengthAdjust="spacingAndGlyphs">0</text>
<text id="ly1" x="52.00" y="292" font-size="33.5" stroke="#000" stroke-width="0.47" stroke-linejoin="round" fill="#000" textLength="52.32" lengthAdjust="spacingAndGlyphs">-20</text>
<text id="ly2" x="52.00" y="389.5" font-size="33.5" stroke="#000" stroke-width="0.47" stroke-linejoin="round" fill="#000" textLength="52.32" lengthAdjust="spacingAndGlyphs">-40</text>
<text id="ly3" x="52.00" y="494.5" font-size="33.5" stroke="#000" stroke-width="0.47" stroke-linejoin="round" fill="#000" textLength="52.32" lengthAdjust="spacingAndGlyphs">-60</text>
<text id="ly4" x="52.00" y="591.5" font-size="33.5" stroke="#000" stroke-width="0.47" stroke-linejoin="round" fill="#000" textLength="52.32" lengthAdjust="spacingAndGlyphs">-80</text>
<text id="ry0" x="1252.40" y="191.5" font-size="33.5" stroke="#000" stroke-width="0.47" stroke-linejoin="round" fill="#000" textLength="19.89" lengthAdjust="spacingAndGlyphs">0</text>
<text id="ry1" x="1232.00" y="291.6" font-size="33.5" stroke="#000" stroke-width="0.47" stroke-linejoin="round" fill="#000" textLength="52.32" lengthAdjust="spacingAndGlyphs">-20</text>
<text id="ry2" x="1232.00" y="388.2" font-size="33.5" stroke="#000" stroke-width="0.47" stroke-linejoin="round" fill="#000" textLength="52.32" lengthAdjust="spacingAndGlyphs">-40</text>
<text id="ry3" x="1232.00" y="491.7" font-size="33.5" stroke="#000" stroke-width="0.47" stroke-linejoin="round" fill="#000" textLength="52.32" lengthAdjust="spacingAndGlyphs">-60</text>
<text id="ry4" x="1232.00" y="587" font-size="33.5" stroke="#000" stroke-width="0.47" stroke-linejoin="round" fill="#000" textLength="52.32" lengthAdjust="spacingAndGlyphs">-80</text>
<text id="lx1" x="168.50" y="631.5" font-size="33" stroke="#000" stroke-width="0.46" stroke-linejoin="round" fill="#000" textLength="107.32" lengthAdjust="spacingAndGlyphs">GPT-4o</text>
<text id="lx2" x="354.00" y="631.5" font-size="33" stroke="#000" stroke-width="0.46" stroke-linejoin="round" fill="#000" textLength="213.29" lengthAdjust="spacingAndGlyphs">Qwen-2.5-72B</text>
<text id="lx3" x="608.50" y="631.5" font-size="33" stroke="#000" stroke-width="0.46" stroke-linejoin="round" fill="#000" textLength="199.13" lengthAdjust="spacingAndGlyphs">Llama-3.1-8B</text>
<text id="lx4" x="857.00" y="631.5" font-size="33" stroke="#000" stroke-width="0.46" stroke-linejoin="round" fill="#000" textLength="194.44" lengthAdjust="spacingAndGlyphs">Qwen-2.5-7B</text>
<text id="rx1" x="1380.25" y="636" font-size="33" stroke="#000" stroke-width="0.46" stroke-linejoin="round" fill="#000" textLength="106.61" lengthAdjust="spacingAndGlyphs">GPT-4o</text>
<text id="rx2" x="1614.00" y="636" font-size="33" stroke="#000" stroke-width="0.46" stroke-linejoin="round" fill="#000" textLength="212.78" lengthAdjust="spacingAndGlyphs">Qwen-2.5-72B</text>
<text id="rx3" x="1916.75" y="636" font-size="33" stroke="#000" stroke-width="0.46" stroke-linejoin="round" fill="#000" textLength="199.15" lengthAdjust="spacingAndGlyphs">Llama-3.1-8B</text>
<text id="rx4" x="2212.75" y="636" font-size="33" stroke="#000" stroke-width="0.46" stroke-linejoin="round" fill="#000" textLength="194.19" lengthAdjust="spacingAndGlyphs">Qwen-2.5-7B</text>
<text id="ta0" x="344.60" y="703.6" font-size="34" stroke="#000" stroke-width="1.3" stroke-linejoin="round" fill="#000" textLength="47.55" lengthAdjust="spacingAndGlyphs">(a)</text>
<text id="ta1_0" x="409.60" y="708" font-size="40.5" stroke="#000" stroke-width="1.6" stroke-linejoin="round" fill="#000" textLength="292.48" lengthAdjust="spacingAndGlyphs">Single-Memory</text>
<text id="ta1_1" x="714.60" y="708" font-size="40.5" stroke="#000" stroke-width="1.6" stroke-linejoin="round" fill="#000" textLength="104.14" lengthAdjust="spacingAndGlyphs">Tasks</text>
<text id="tb_0" x="1644.25" y="707.75" font-size="40.5" stroke="#000" stroke-width="1.6" stroke-linejoin="round" fill="#000" textLength="51.14" lengthAdjust="spacingAndGlyphs">(b)</text>
<text id="tb_1" x="1706.50" y="707.75" font-size="40.5" stroke="#000" stroke-width="1.6" stroke-linejoin="round" fill="#000" textLength="265.16" lengthAdjust="spacingAndGlyphs">Joint-Memory</text>
<text id="tb_2" x="1985.00" y="707.75" font-size="40.5" stroke="#000" stroke-width="1.6" stroke-linejoin="round" fill="#000" textLength="104.29" lengthAdjust="spacingAndGlyphs">Tasks</text>
<text id="lyt" transform="translate(44,421.10) rotate(-90)" font-size="48.5" font-weight="bold" fill="#1f2937" textLength="90.06" lengthAdjust="spacingAndGlyphs">ΔSR</text>
<text id="ryt" transform="translate(1224.5,422.00) rotate(-90)" font-size="48.5" font-weight="bold" fill="#1f2937" textLength="88.82" lengthAdjust="spacingAndGlyphs">ΔSR</text>
<text id="al0" x="128.00" y="255.6" font-size="28" stroke="#0000ff" stroke-width="0.95" stroke-linejoin="round" fill="#0000ff" textLength="55.61" lengthAdjust="spacingAndGlyphs">+5.5</text>
<text id="al1" x="192.20" y="224.3" font-size="28" stroke="#0000ff" stroke-width="0.95" stroke-linejoin="round" fill="#0000ff" textLength="55.39" lengthAdjust="spacingAndGlyphs">+3.4</text>
<text id="al2" x="256.30" y="287.8" font-size="28" stroke="#0000ff" stroke-width="0.95" stroke-linejoin="round" fill="#0000ff" textLength="55.39" lengthAdjust="spacingAndGlyphs">+6.2</text>
<text id="al3" x="360.00" y="328.1" font-size="28" stroke="#0000ff" stroke-width="0.95" stroke-linejoin="round" fill="#0000ff" textLength="72.09" lengthAdjust="spacingAndGlyphs">+19.4</text>
<text id="al4" x="432.20" y="247.85" font-size="28" stroke="#0000ff" stroke-width="0.95" stroke-linejoin="round" fill="#0000ff" textLength="55.28" lengthAdjust="spacingAndGlyphs">+7.9</text>
<text id="al5" x="487.90" y="380.3" font-size="28" stroke="#0000ff" stroke-width="0.95" stroke-linejoin="round" fill="#0000ff" textLength="72.62" lengthAdjust="spacingAndGlyphs">+30.2</text>
<text id="al6" x="616.00" y="375.7" font-size="28" stroke="#0000ff" stroke-width="0.95" stroke-linejoin="round" fill="#0000ff" textLength="55.50" lengthAdjust="spacingAndGlyphs">+8.3</text>
<text id="al7" x="689.00" y="256.1" font-size="28" stroke="#0000ff" stroke-width="0.95" stroke-linejoin="round" fill="#0000ff" textLength="38.94" lengthAdjust="spacingAndGlyphs">0.0</text>
<text id="al8" x="736.10" y="472.1" font-size="28" stroke="#0000ff" stroke-width="0.95" stroke-linejoin="round" fill="#0000ff" textLength="70.97" lengthAdjust="spacingAndGlyphs">+31.3</text>
<text id="al9" x="852.00" y="336.6" font-size="28" stroke="#0000ff" stroke-width="0.95" stroke-linejoin="round" fill="#0000ff" textLength="68.49" lengthAdjust="spacingAndGlyphs">+11.1</text>
<text id="al10" x="924.70" y="223.8" font-size="28" stroke="#0000ff" stroke-width="0.95" stroke-linejoin="round" fill="#0000ff" textLength="55.19" lengthAdjust="spacingAndGlyphs">+4.5</text>
<text id="al11" x="980.00" y="440.35" font-size="28" stroke="#0000ff" stroke-width="0.95" stroke-linejoin="round" fill="#0000ff" textLength="70.86" lengthAdjust="spacingAndGlyphs">+20.5</text>
<text id="ar0" x="1305.50" y="356.1" font-size="26" stroke="#0000ff" stroke-width="0.9" stroke-linejoin="round" fill="#0000ff" textLength="63.37" lengthAdjust="spacingAndGlyphs">+11.1</text>
<text id="ar1" x="1382.00" y="307.85" font-size="26" stroke="#0000ff" stroke-width="0.9" stroke-linejoin="round" fill="#0000ff" textLength="35.15" lengthAdjust="spacingAndGlyphs">0.0</text>
<text id="ar2" x="1433.75" y="411.85" font-size="26" stroke="#0000ff" stroke-width="0.9" stroke-linejoin="round" fill="#0000ff" textLength="65.80" lengthAdjust="spacingAndGlyphs">+41.7</text>
<text id="ar3" x="1510.00" y="351.85" font-size="26" stroke="#0000ff" stroke-width="0.9" stroke-linejoin="round" fill="#0000ff" textLength="35.93" lengthAdjust="spacingAndGlyphs">0.0</text>
<text id="ar4" x="1597.00" y="491.85" font-size="26" stroke="#0000ff" stroke-width="0.9" stroke-linejoin="round" fill="#0000ff" textLength="63.74" lengthAdjust="spacingAndGlyphs">+36.1</text>
<text id="ar5" x="1660.25" y="411.85" font-size="26" stroke="#0000ff" stroke-width="0.9" stroke-linejoin="round" fill="#0000ff" textLength="65.86" lengthAdjust="spacingAndGlyphs">+37.5</text>
<text id="ar6" x="1724.00" y="471.85" font-size="26" stroke="#0000ff" stroke-width="0.9" stroke-linejoin="round" fill="#0000ff" textLength="66.82" lengthAdjust="spacingAndGlyphs">+41.7</text>
<text id="ar7" x="1785.50" y="599.85" font-size="26" stroke="#0000ff" stroke-width="0.9" stroke-linejoin="round" fill="#0000ff" textLength="65.31" lengthAdjust="spacingAndGlyphs">+50.0</text>
<text id="ar8" x="1896.00" y="508.1" font-size="26" stroke="#0000ff" stroke-width="0.9" stroke-linejoin="round" fill="#0000ff" textLength="51.86" lengthAdjust="spacingAndGlyphs">+8.3</text>
<text id="ar9" x="1966.75" y="411.85" font-size="26" stroke="#0000ff" stroke-width="0.9" stroke-linejoin="round" fill="#0000ff" textLength="35.24" lengthAdjust="spacingAndGlyphs">0.0</text>
<text id="ar10" x="2022.50" y="436.85" font-size="26" stroke="#0000ff" stroke-width="0.9" stroke-linejoin="round" fill="#0000ff" textLength="44.58" lengthAdjust="spacingAndGlyphs">-8.3</text>
<text id="ar11" x="2088.75" y="556.1" font-size="26" stroke="#0000ff" stroke-width="0.9" stroke-linejoin="round" fill="#0000ff" textLength="50.84" lengthAdjust="spacingAndGlyphs">+8.3</text>
<text id="ar12" x="2181.00" y="444.35" font-size="26" stroke="#0000ff" stroke-width="0.9" stroke-linejoin="round" fill="#0000ff" textLength="63.61" lengthAdjust="spacingAndGlyphs">+11.1</text>
<text id="ar13" x="2257.25" y="308.1" font-size="26" stroke="#0000ff" stroke-width="0.9" stroke-linejoin="round" fill="#0000ff" textLength="36.70" lengthAdjust="spacingAndGlyphs">0.0</text>
<text id="ar14" x="2316.00" y="516.1" font-size="26" stroke="#0000ff" stroke-width="0.9" stroke-linejoin="round" fill="#0000ff" textLength="51.86" lengthAdjust="spacingAndGlyphs">+8.3</text>
<text id="ar15" x="2381.75" y="516.1" font-size="26" stroke="#0000ff" stroke-width="0.9" stroke-linejoin="round" fill="#0000ff" textLength="65.80" lengthAdjust="spacingAndGlyphs">+16.7</text>
</svg>
</body></html>
